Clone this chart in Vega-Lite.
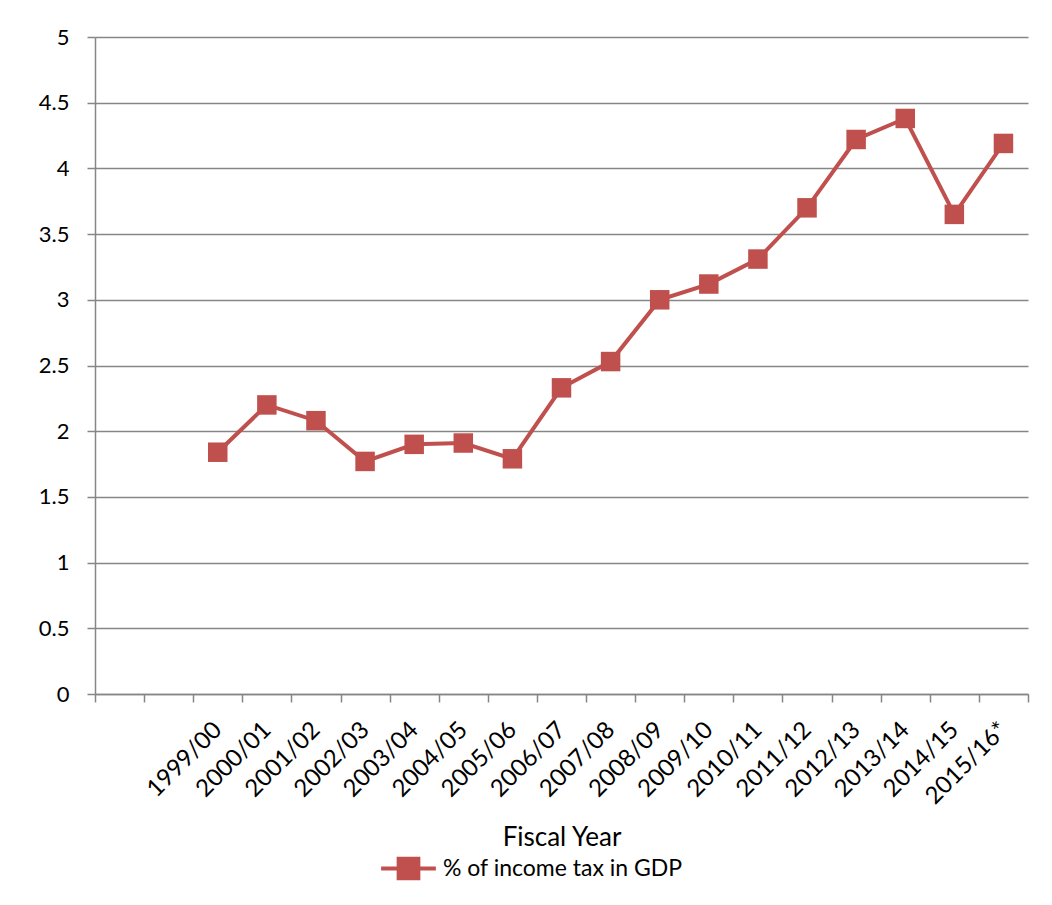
{
  "$schema": "https://vega.github.io/schema/vega-lite/v6.json",
  "autosize": {"type": "none"},
  "padding": {"left": 95, "top": 37, "right": 24, "bottom": 211},
  "width": 933,
  "height": 657,
  "background": "white",
  "config": {
    "font": "Lato",
    "view": {"stroke": null},
    "axis": {"labelFont": "Lato", "titleFont": "Lato", "labelColor": "black", "titleColor": "black", "domainColor": "#868686", "tickColor": "#868686", "gridColor": "#868686", "domainWidth": 1.5, "tickWidth": 1.5, "gridWidth": 1.5}
  },
  "data": {"values": [
    {"year": "1999/00", "value": 1.84, "series": "% of income tax in GDP"},
    {"year": "2000/01", "value": 2.2, "series": "% of income tax in GDP"},
    {"year": "2001/02", "value": 2.08, "series": "% of income tax in GDP"},
    {"year": "2002/03", "value": 1.77, "series": "% of income tax in GDP"},
    {"year": "2003/04", "value": 1.9, "series": "% of income tax in GDP"},
    {"year": "2004/05", "value": 1.91, "series": "% of income tax in GDP"},
    {"year": "2005/06", "value": 1.79, "series": "% of income tax in GDP"},
    {"year": "2006/07", "value": 2.33, "series": "% of income tax in GDP"},
    {"year": "2007/08", "value": 2.53, "series": "% of income tax in GDP"},
    {"year": "2008/09", "value": 3.0, "series": "% of income tax in GDP"},
    {"year": "2009/10", "value": 3.12, "series": "% of income tax in GDP"},
    {"year": "2010/11", "value": 3.31, "series": "% of income tax in GDP"},
    {"year": "2011/12", "value": 3.7, "series": "% of income tax in GDP"},
    {"year": "2012/13", "value": 4.22, "series": "% of income tax in GDP"},
    {"year": "2013/14", "value": 4.38, "series": "% of income tax in GDP"},
    {"year": "2014/15", "value": 3.65, "series": "% of income tax in GDP"},
    {"year": "2015/16*", "value": 4.19, "series": "% of income tax in GDP"}
  ]},
  "encoding": {
    "x": {
      "field": "year", "type": "nominal", "bandPosition": 0.5,
      "scale": {"type": "band", "paddingInner": 0, "paddingOuter": 0,
        "domain": ["_1", "_2", "1999/00", "2000/01", "2001/02", "2002/03", "2003/04", "2004/05", "2005/06", "2006/07", "2007/08", "2008/09", "2009/10", "2010/11", "2011/12", "2012/13", "2013/14", "2014/15", "2015/16*"]},
      "axis": {
        "title": "Fiscal Year", "titleFontSize": 26, "titleFontWeight": "normal", "titlePadding": 16,
        "labelAngle": -45, "labelAlign": "right", "labelBaseline": "middle", "labelFontSize": 24, "labelPadding": 24, "labelExpr": "indexof(datum.label, '_') == 0 ? '' : datum.label",
        "tickBand": "extent", "tickSize": 8, "grid": false, "labelOverlap": false, "labelLimit": 300
      }
    },
    "y": {
      "field": "value", "type": "quantitative",
      "scale": {"domain": [0, 5], "nice": false},
      "axis": {"title": null, "format": "~g", "values": [0, 0.5, 1, 1.5, 2, 2.5, 3, 3.5, 4, 4.5, 5], "labelFontSize": 22, "labelPadding": 18, "tickSize": 8, "grid": true, "domain": true}
    }
  },
  "layer": [
    {
      "mark": {"type": "line", "strokeWidth": 4},
      "encoding": {
        "color": {
          "field": "series", "type": "nominal",
          "scale": {"range": ["#C0504D"]},
          "legend": {
            "title": null, "orient": "none", "legendX": 284, "legendY": 802, "direction": "horizontal",
            "labelFontSize": 23, "labelFont": "Lato", "labelColor": "black", "labelLimit": 400,
            "symbolType": "M-1,0L1,0M-0.36,-0.36L0.36,-0.36L0.36,0.36L-0.36,0.36Z",
            "symbolSize": 3000, "labelOffset": 5,
            "encode": {"symbols": {"update": {"fill": {"value": "#C0504D"}, "stroke": {"value": "#C0504D"}, "strokeWidth": {"value": 4}}}}
          }
        }
      }
    },
    {
      "mark": {"type": "point", "shape": "square", "filled": true, "size": 380, "color": "#C0504D", "opacity": 1},
      "encoding": {}
    }
  ]
}
